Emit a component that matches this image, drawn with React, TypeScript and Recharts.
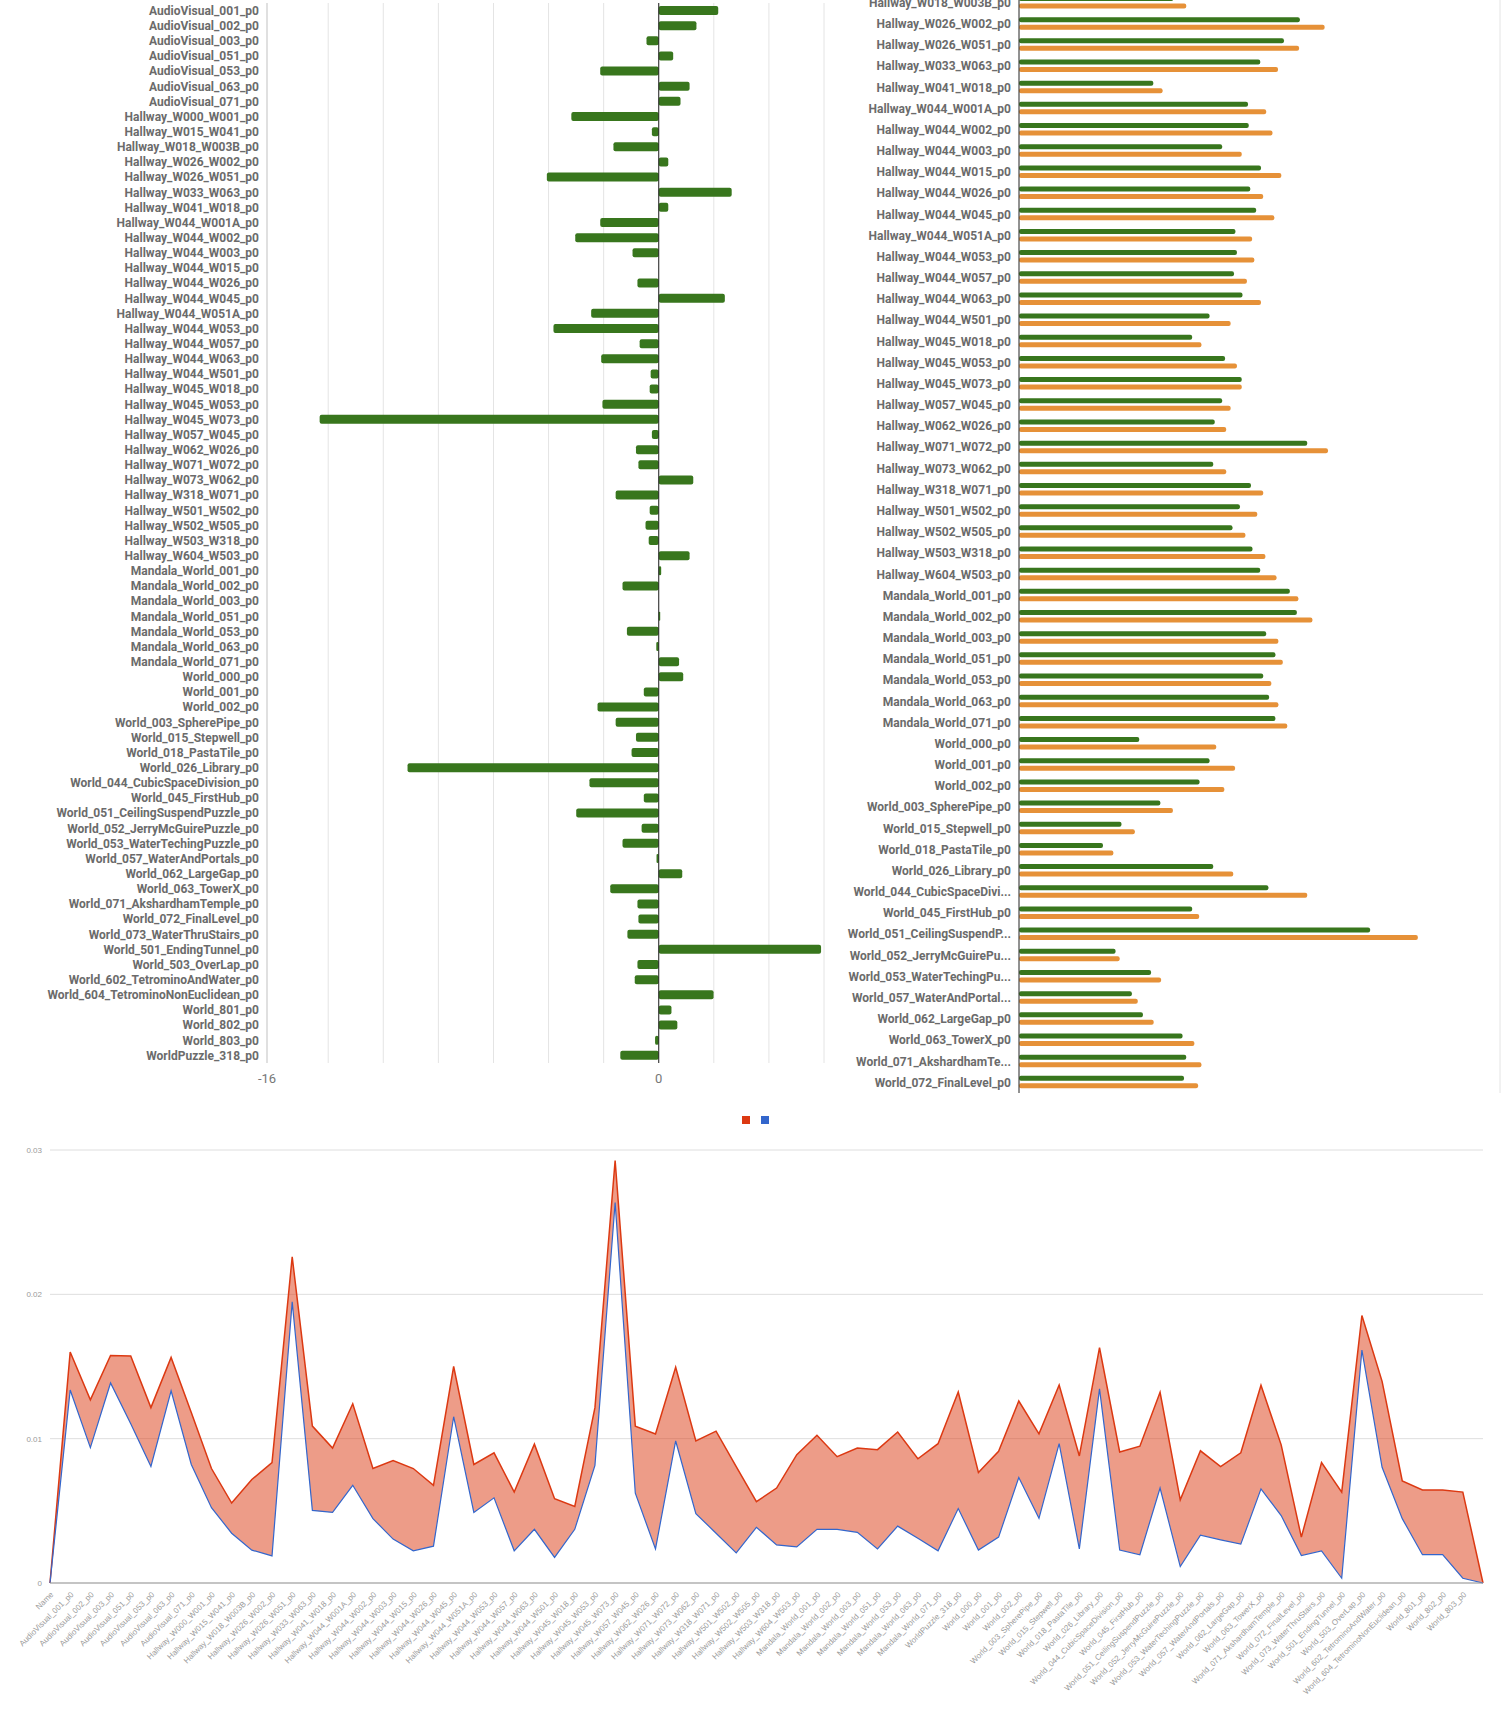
import React from "react";
import {
  BarChart,
  Bar,
  ComposedChart,
  Area,
  Line,
  XAxis,
  YAxis,
  CartesianGrid,
  ReferenceLine,
  Legend,
} from "recharts";

const COLORS = {
  green: "#38761d",
  orange: "#e69138",
  red: "#dc3912",
  blue: "#3366cc",
  grid: "#e4e4e4",
};

const leftNames = [
  "AudioVisual_001_p0", "AudioVisual_002_p0", "AudioVisual_003_p0", "AudioVisual_051_p0",
  "AudioVisual_053_p0", "AudioVisual_063_p0", "AudioVisual_071_p0",
  "Hallway_W000_W001_p0", "Hallway_W015_W041_p0", "Hallway_W018_W003B_p0", "Hallway_W026_W002_p0",
  "Hallway_W026_W051_p0", "Hallway_W033_W063_p0", "Hallway_W041_W018_p0", "Hallway_W044_W001A_p0",
  "Hallway_W044_W002_p0", "Hallway_W044_W003_p0", "Hallway_W044_W015_p0", "Hallway_W044_W026_p0",
  "Hallway_W044_W045_p0", "Hallway_W044_W051A_p0", "Hallway_W044_W053_p0", "Hallway_W044_W057_p0",
  "Hallway_W044_W063_p0", "Hallway_W044_W501_p0", "Hallway_W045_W018_p0", "Hallway_W045_W053_p0",
  "Hallway_W045_W073_p0", "Hallway_W057_W045_p0", "Hallway_W062_W026_p0", "Hallway_W071_W072_p0",
  "Hallway_W073_W062_p0", "Hallway_W318_W071_p0", "Hallway_W501_W502_p0", "Hallway_W502_W505_p0",
  "Hallway_W503_W318_p0", "Hallway_W604_W503_p0",
  "Mandala_World_001_p0", "Mandala_World_002_p0", "Mandala_World_003_p0", "Mandala_World_051_p0",
  "Mandala_World_053_p0", "Mandala_World_063_p0", "Mandala_World_071_p0",
  "World_000_p0", "World_001_p0", "World_002_p0", "World_003_SpherePipe_p0", "World_015_Stepwell_p0",
  "World_018_PastaTile_p0", "World_026_Library_p0", "World_044_CubicSpaceDivision_p0",
  "World_045_FirstHub_p0", "World_051_CeilingSuspendPuzzle_p0", "World_052_JerryMcGuirePuzzle_p0",
  "World_053_WaterTechingPuzzle_p0", "World_057_WaterAndPortals_p0", "World_062_LargeGap_p0",
  "World_063_TowerX_p0", "World_071_AkshardhamTemple_p0", "World_072_FinalLevel_p0",
  "World_073_WaterThruStairs_p0", "World_501_EndingTunnel_p0", "World_503_OverLap_p0",
  "World_602_TetrominoAndWater_p0", "World_604_TetrominoNonEuclidean_p0", "World_801_p0",
  "World_802_p0", "World_803_p0", "WorldPuzzle_318_p0",
];

// difference per level (left chart)
const leftDiff = [
  2.43, 1.54, -0.5, 0.59, -2.39, 1.26, 0.89,
  -3.57, -0.28, -1.85, 0.39, -4.57, 2.98, 0.39, -2.39, -3.41, -1.07,
  0, -0.87, 2.7, -2.76, -4.3, -0.78, -2.35, -0.33, -0.37, -2.3,
  -13.85, -0.28, -0.93, -0.83, 1.41, -1.76, -0.37, -0.54, -0.41, 1.26,
  0.1, -1.48, 0, 0.06, -1.3, -0.1, 0.83,
  1.0, -0.61, -2.5, -1.76, -0.93, -1.11, -10.26, -2.83, -0.61, -3.37,
  -0.7, -1.48, -0.09, 0.96, -1.98, -0.87, -0.83, -1.28, 6.63, -0.87,
  -0.98, 2.24, 0.52, 0.76, -0.15, -1.57,
];
const leftTicks = [-16, -13.5, -11.25, -9, -6.75, -4.5, -2.25, 0, 2.25, 4.5, 6.75];

// right chart: visible rows (top row is cut off by the frame)
const rightNames = leftNames.slice(9, 61);
const rightShort: Record<string, string> = {
  "World_044_CubicSpaceDivision_p0": "World_044_CubicSpaceDivi...",
  "World_051_CeilingSuspendPuzzle_p0": "World_051_CeilingSuspendP...",
  "World_052_JerryMcGuirePuzzle_p0": "World_052_JerryMcGuirePu...",
  "World_053_WaterTechingPuzzle_p0": "World_053_WaterTechingPu...",
  "World_057_WaterAndPortals_p0": "World_057_WaterAndPortal...",
  "World_071_AkshardhamTemple_p0": "World_071_AkshardhamTe...",
};
const rightGreen = [
  4.17, 7.59, 7.16, 6.52, 3.63, 6.19, 6.21, 5.49, 6.54, 6.25,
  6.41, 5.85, 5.89, 5.81, 6.04, 5.15, 4.68, 5.57, 6.02, 5.49,
  5.29, 7.79, 5.25, 6.27, 5.97, 5.77, 6.31, 6.52, 7.32, 7.51,
  6.68, 6.93, 6.6, 6.76, 6.93, 3.25, 5.15, 4.88, 3.82, 2.77,
  2.27, 5.25, 6.74, 4.68, 9.49, 2.61, 3.57, 3.05, 3.35, 4.42,
  4.52, 4.46,
];
const rightOrange = [
  4.52, 8.26, 7.57, 7.0, 3.88, 6.68, 6.85, 6.02, 7.09, 6.6,
  6.9, 6.3, 6.36, 6.16, 6.54, 5.72, 4.93, 5.89, 6.02, 5.72,
  5.6, 8.35, 5.6, 6.6, 6.44, 6.12, 6.66, 6.96, 7.55, 7.93,
  7.01, 7.13, 6.82, 7.01, 7.25, 5.33, 5.84, 5.55, 4.16, 3.13,
  2.55, 5.79, 7.79, 4.87, 10.78, 2.72, 3.84, 3.21, 3.64, 4.74,
  4.93, 4.84,
];
const rightTicks = [0, 1, 2, 3, 4, 5, 6, 7, 8, 9, 10, 11, 12, 13];

// bottom area chart
const areaNames = ["Name", ...leftNames.slice(0, 44), "WorldPuzzle_318_p0", ...leftNames.slice(44, 69), ""];
const areaRed = [
  0, 0.016, 0.01269, 0.01576, 0.01573, 0.01215, 0.01563, 0.01182, 0.00793, 0.00554,
  0.00717, 0.00834, 0.0226, 0.01087, 0.00935, 0.01242, 0.00793, 0.00848, 0.00793, 0.00677,
  0.015, 0.00821, 0.00902, 0.0063, 0.00962, 0.00584, 0.0053, 0.01215, 0.02927, 0.01087,
  0.01033, 0.01495, 0.00984, 0.01052, 0.00807, 0.00563, 0.00658, 0.00889, 0.01024, 0.00875,
  0.00935, 0.00924, 0.01046, 0.00861, 0.00965, 0.01323, 0.00766, 0.00913, 0.01261, 0.01033,
  0.01372, 0.0088, 0.0163, 0.00908, 0.00948, 0.01321, 0.00576, 0.00916, 0.00807, 0.00902,
  0.0137, 0.00957, 0.00318, 0.00834, 0.0063, 0.01853, 0.01397, 0.00707, 0.00644, 0.00644,
  0.0063, 0,
];
const areaBlue = [
  0, 0.01337, 0.00938, 0.01386, 0.01103, 0.00807, 0.01332, 0.00821, 0.00522, 0.00345,
  0.00228, 0.00188, 0.01948, 0.00503, 0.00489, 0.00677, 0.00446, 0.00304, 0.00223, 0.00255,
  0.01152, 0.00489, 0.0059, 0.00223, 0.00372, 0.00177, 0.00372, 0.00815, 0.02636, 0.00622,
  0.00236, 0.00984, 0.00481, 0.00345, 0.00209, 0.00386, 0.00264, 0.0025, 0.00372, 0.00372,
  0.00351, 0.00236, 0.00394, 0.0031, 0.00223, 0.00516, 0.00228, 0.00318, 0.00731, 0.00448,
  0.00965, 0.00236, 0.01345, 0.00228, 0.00196, 0.00658, 0.00114, 0.00332, 0.00299, 0.00269,
  0.00652, 0.00467, 0.0019, 0.00223, 0.00033, 0.01614, 0.00802, 0.00446, 0.00196, 0.00196,
  0.00033, 0,
];
const areaTicks = [0, 0.01, 0.02, 0.03];

const labelTick = { fontSize: 12, fontWeight: 700, fill: "#6b6b6b", fontFamily: "Roboto, sans-serif" };

function LegendSquares() {
  return (
    <div style={{ display: "flex", gap: 11 }}>
      <span style={{ width: 8, height: 8, background: COLORS.red, display: "inline-block" }} />
      <span style={{ width: 8, height: 8, background: COLORS.blue, display: "inline-block" }} />
    </div>
  );
}

export default function App() {
  const leftData = leftNames.map((name, i) => ({ name, diff: leftDiff[i] }));
  const rightData = rightNames.map((name, i) => ({ name, g: rightGreen[i], o: rightOrange[i] }));
  const areaData = areaNames.map((name, i) => ({
    name,
    red: areaRed[i],
    blue: areaBlue[i],
    range: [areaBlue[i], areaRed[i]],
  }));

  return (
    <div style={{ position: "relative", width: 1504, height: 1716, background: "#fff", fontFamily: "Roboto, sans-serif" }}>
      <style>{"body{margin:0}"}</style>

      {/* left: diverging bars */}
      <div style={{ position: "absolute", left: 0, top: 0 }}>
        <BarChart
          layout="vertical"
          width={826}
          height={1093}
          data={leftData}
          margin={{ top: 3, right: 2, bottom: 0, left: 0 }}
        >
          <CartesianGrid horizontal={false} stroke={COLORS.grid} />
          <XAxis
            type="number"
            domain={[-16, 6.75]}
            ticks={leftTicks}
            tickFormatter={(v) => (v === -16 || v === 0 ? String(v) : "")}
            axisLine={false}
            tickLine={false}
            tickMargin={5}
            height={30}
            tick={{ fontSize: 13, fill: "#777", fontFamily: "Roboto, sans-serif" }}
          />
          <YAxis
            type="category"
            dataKey="name"
            width={267}
            interval={0}
            tickLine={false}
            axisLine={{ stroke: "#cfcfcf" }}
            tick={labelTick}
          />
          <Bar dataKey="diff" fill={COLORS.green} barSize={9} radius={2} isAnimationActive={false} />
          <ReferenceLine x={0} stroke="#222" />
        </BarChart>
      </div>

      {/* right: grouped bars, top row cut by the frame */}
      <div style={{ position: "absolute", left: 830, top: 0, width: 674, height: 1100, overflow: "hidden" }}>
        <div style={{ position: "absolute", left: 0, top: -8 }}>
          <BarChart
            layout="vertical"
            width={674}
            height={1102}
            data={rightData}
            margin={{ top: 0, right: 4, bottom: 0, left: 0 }}
            barGap={2.5}
          >
            <CartesianGrid horizontal={false} stroke={COLORS.grid} />
            <XAxis type="number" domain={[0, 13]} ticks={rightTicks} height={1} tick={false} axisLine={false} tickLine={false} />
            <YAxis
              type="category"
              dataKey="name"
              width={189}
              interval={0}
              tickLine={false}
              axisLine={{ stroke: "#333" }}
              tick={labelTick}
              tickFormatter={(v) => rightShort[v] ?? v}
            />
            <Bar dataKey="g" fill={COLORS.green} barSize={5} radius={2} isAnimationActive={false} />
            <Bar dataKey="o" fill={COLORS.orange} barSize={5} radius={2} isAnimationActive={false} />
          </BarChart>
        </div>
      </div>

      {/* bottom: band between two series */}
      <div style={{ position: "absolute", left: 0, top: 1100 }}>
        <ComposedChart
          width={1504}
          height={616}
          data={areaData}
          margin={{ top: 40, right: 21, bottom: 0, left: 0 }}
        >
          <Legend
            verticalAlign="top"
            content={() => <LegendSquares />}
            wrapperStyle={{ top: 16, left: 742, width: 30, height: 10 }}
          />
          <CartesianGrid vertical={false} stroke="#dedede" />
          <XAxis
            dataKey="name"
            scale="point"
            interval={0}
            height={133}
            angle={-45}
            textAnchor="end"
            tickLine={false}
            axisLine={{ stroke: "#999" }}
            tick={{ fontSize: 8, fill: "#9a9a9a", fontFamily: "Arial, sans-serif" }}
          />
          <YAxis
            width={50}
            domain={[0, 0.03]}
            ticks={areaTicks}
            axisLine={false}
            tickLine={false}
            tick={{ fontSize: 8, fill: "#9a9a9a", fontFamily: "Arial, sans-serif" }}
          />
          <Area dataKey="range" stroke="none" fill={COLORS.red} fillOpacity={0.5} isAnimationActive={false} />
          <Line dataKey="red" stroke={COLORS.red} strokeWidth={1.5} dot={false} isAnimationActive={false} />
          <Line dataKey="blue" stroke={COLORS.blue} strokeWidth={1.2} dot={false} isAnimationActive={false} />
        </ComposedChart>
      </div>
    </div>
  );
}
